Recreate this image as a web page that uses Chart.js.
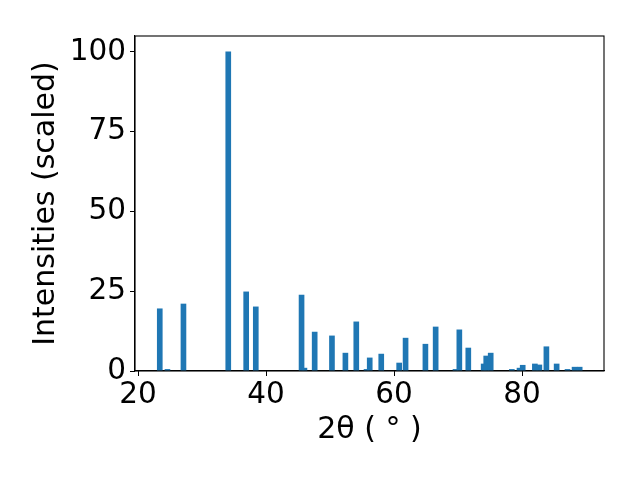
<!DOCTYPE html>
<html>
<head>
<meta charset="utf-8">
<script src="https://cdn.jsdelivr.net/npm/chart.js@4.4.0/dist/chart.umd.min.js"></script>
<style>
    html, body { margin: 0; padding: 0; background: #ffffff; }
    #wrap { width: 640px; height: 480px; }
</style>
</head>
<body>
<div id="wrap"><canvas id="xrdChart" width="640" height="480"></canvas></div>
<script>
// peak positions (2theta, degrees) and scaled intensities
const twoTheta = [23.4, 24.6, 27.1, 34.1, 36.9, 38.4, 45.55, 46.0, 47.6, 50.3,
                  52.4, 54.1, 55.7, 56.2, 58.0, 60.8, 61.8, 64.9, 66.5, 69.6,
                  70.2, 71.6, 74.0, 74.4, 75.1, 78.4, 79.6, 80.1, 82.0, 82.7,
                  83.8, 85.4, 87.1, 88.2, 89.0];
const intensities = [19.5, 0.5, 21.0, 100, 24.8, 20.1, 23.8, 0.9, 12.2, 11.0,
                     5.6, 15.4, 0.5, 4.1, 5.3, 2.5, 10.3, 8.4, 13.8, 0.5,
                     12.9, 7.2, 2.2, 4.7, 5.6, 0.5, 0.9, 1.8, 2.2, 1.9,
                     7.6, 2.2, 0.5, 1.2, 1.2];
const xTicks = [20, 40, 60, 80];
const yTicks = [0, 25, 50, 75, 100];

const barBlue = '#1f77b4';
const tickFont = { family: "'DejaVu Sans', sans-serif", size: 29.5 };
const labelFont = { family: "'DejaVu Sans', sans-serif", size: 30 };

const frameBox = {
    id: 'frameBox',
    afterDraw(chart) {
        const { ctx, chartArea } = chart;
        ctx.save();
        ctx.strokeStyle = '#000000';
        ctx.lineWidth = 1.1;
        ctx.strokeRect(chartArea.left, chartArea.top,
                       chartArea.right - chartArea.left, chartArea.bottom - chartArea.top);
        ctx.restore();
    }
};

new Chart(document.getElementById('xrdChart'), {
    type: 'bar',
    data: {
        datasets: [{
            data: twoTheta.map((t, i) => ({ x: t, y: intensities[i] })),
            backgroundColor: barBlue,
            borderWidth: 0,
            barThickness: 5
        }]
    },
    options: {
        responsive: false,
        animation: false,
        layout: { padding: { left: 0, right: 36, top: 36, bottom: 0 } },
        plugins: { legend: { display: false }, tooltip: { enabled: false } },
        scales: {
            x: {
                type: 'linear',
                min: 19.53,
                max: 92.8,
                offset: false,
                afterBuildTicks: s => { s.ticks = xTicks.map(v => ({ value: v })); },
                afterFit: s => { s.height = 109; },
                grid: { display: true, drawOnChartArea: false, drawTicks: true, tickLength: 5, color: '#000', offset: false },
                border: { display: true, color: '#000', width: 1.1 },
                ticks: { color: '#000', font: tickFont, padding: 2, maxRotation: 0, autoSkip: false },
                title: {
                    display: true, text: '2θ ( ° )', color: '#000',
                    font: labelFont, padding: { top: 32, bottom: 32 }
                }
            },
            y: {
                min: 0,
                max: 105,
                afterBuildTicks: s => { s.ticks = yTicks.map(v => ({ value: v })); },
                afterFit: s => { s.width = 135; },
                grid: { display: true, drawOnChartArea: false, drawTicks: true, tickLength: 5, color: '#000' },
                border: { display: true, color: '#000', width: 1.1 },
                ticks: { color: '#000', font: tickFont, padding: 4 },
                title: {
                    display: true, text: 'Intensities (scaled)', color: '#000',
                    font: labelFont, padding: { top: 28, bottom: 28 }
                }
            }
        }
    },
    plugins: [frameBox]
});
</script>
</body>
</html>
